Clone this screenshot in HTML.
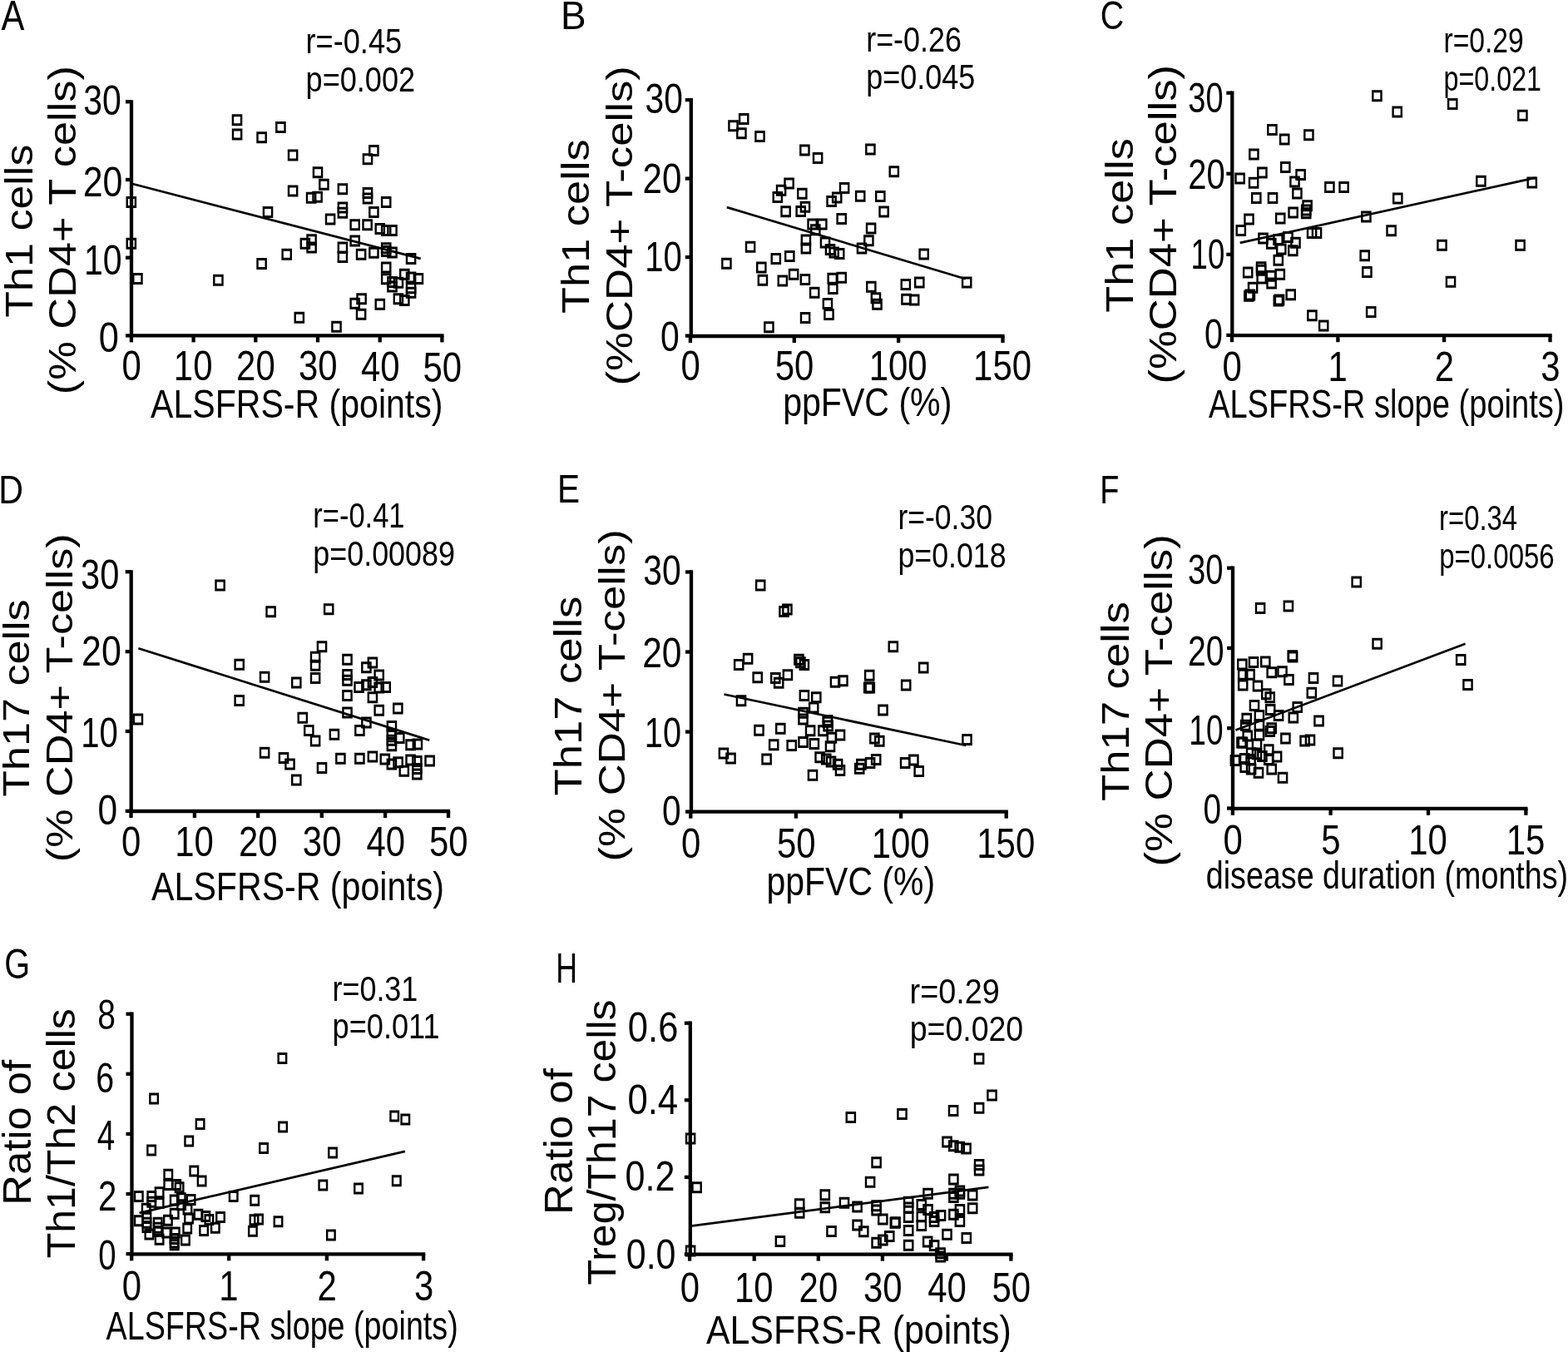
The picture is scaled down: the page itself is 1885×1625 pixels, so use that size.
<!DOCTYPE html>
<html><head><meta charset="utf-8"><style>
html,body{margin:0;padding:0;background:#fff;}
svg{display:block;}
text{font-family:"Liberation Sans",Arial,sans-serif;fill:#000;}
line{stroke:#000;}
path.s{fill:#000;fill-rule:evenodd;stroke:none;}
</style></head><body>
<svg xmlns="http://www.w3.org/2000/svg" width="1885" height="1625" viewBox="0 0 1885 1625">
<text transform="translate(1.50,36.00) scale(0.8505,1)" font-size="49.16">A</text>
<text transform="translate(367.46,64.10) scale(0.8504,1)" font-size="42.58">r=-0.45</text>
<text transform="translate(367.55,109.60) scale(0.8510,1)" font-size="42.44">p=0.002</text>
<text transform="translate(39.40,381.67) rotate(-90) scale(1.1224,1)" font-size="46.34">Th1 cells</text>
<text transform="translate(91.10,474.17) rotate(-90) scale(1.1537,1)" font-size="45.38">(% CD4+ T cells)</text>
<line x1="158.00" y1="120.15" x2="158.00" y2="405.55" stroke-width="4.3"/>
<line x1="151.00" y1="403.40" x2="158.00" y2="403.40" stroke-width="4.3"/>
<line x1="151.00" y1="309.70" x2="158.00" y2="309.70" stroke-width="4.3"/>
<line x1="151.00" y1="216.00" x2="158.00" y2="216.00" stroke-width="4.3"/>
<line x1="151.00" y1="122.30" x2="158.00" y2="122.30" stroke-width="4.3"/>
<line x1="155.85" y1="403.40" x2="533.55" y2="403.40" stroke-width="4.3"/>
<line x1="157.90" y1="403.40" x2="157.90" y2="411.40" stroke-width="4.3"/>
<line x1="232.60" y1="403.40" x2="232.60" y2="411.40" stroke-width="4.3"/>
<line x1="307.30" y1="403.40" x2="307.30" y2="411.40" stroke-width="4.3"/>
<line x1="382.00" y1="403.40" x2="382.00" y2="411.40" stroke-width="4.3"/>
<line x1="456.70" y1="403.40" x2="456.70" y2="411.40" stroke-width="4.3"/>
<line x1="531.40" y1="403.40" x2="531.40" y2="411.40" stroke-width="4.3"/>
<text transform="translate(100.26,137.75) scale(0.8310,1)" font-size="49.30">30</text>
<text transform="translate(99.75,236.25) scale(0.8709,1)" font-size="49.30">20</text>
<text transform="translate(100.92,330.25) scale(0.8337,1)" font-size="49.30">10</text>
<text transform="translate(118.67,423.05) scale(0.8793,1)" font-size="49.30">0</text>
<text transform="translate(146.52,456.99) scale(0.8500,1)" font-size="49.30">0</text>
<text transform="translate(208.86,456.79) scale(0.8500,1)" font-size="49.30">10</text>
<text transform="translate(284.08,456.99) scale(0.8500,1)" font-size="49.30">20</text>
<text transform="translate(359.04,456.99) scale(0.8500,1)" font-size="49.30">30</text>
<text transform="translate(434.06,458.09) scale(0.8500,1)" font-size="49.30">40</text>
<text transform="translate(508.39,458.59) scale(0.8500,1)" font-size="49.30">50</text>
<text transform="translate(181.10,502.40) scale(0.8505,1)" font-size="48.29">ALSFRS-R (points)</text>
<line x1="158.50" y1="220.80" x2="505.70" y2="310.90" stroke-width="2.7"/>
<path class="s" d="M278.70 137.30h12.60v14.00h-12.60zM281.10 140.30v8.00h7.80v-8.00z"/>
<path class="s" d="M278.80 154.50h12.60v14.00h-12.60zM281.20 157.50v8.00h7.80v-8.00z"/>
<path class="s" d="M308.30 158.30h12.60v14.00h-12.60zM310.70 161.30v8.00h7.80v-8.00z"/>
<path class="s" d="M331.10 145.90h12.60v14.00h-12.60zM333.50 148.90v8.00h7.80v-8.00z"/>
<path class="s" d="M345.80 179.60h12.60v14.00h-12.60zM348.20 182.60v8.00h7.80v-8.00z"/>
<path class="s" d="M443.10 174.10h12.60v14.00h-12.60zM445.50 177.10v8.00h7.80v-8.00z"/>
<path class="s" d="M435.70 184.20h12.60v14.00h-12.60zM438.10 187.20v8.00h7.80v-8.00z"/>
<path class="s" d="M375.70 200.30h12.60v14.00h-12.60zM378.10 203.30v8.00h7.80v-8.00z"/>
<path class="s" d="M383.10 214.70h12.60v14.00h-12.60zM385.50 217.70v8.00h7.80v-8.00z"/>
<path class="s" d="M345.80 222.60h12.60v14.00h-12.60zM348.20 225.60v8.00h7.80v-8.00z"/>
<path class="s" d="M367.80 230.80h12.60v14.00h-12.60zM370.20 233.80v8.00h7.80v-8.00z"/>
<path class="s" d="M375.30 229.80h12.60v14.00h-12.60zM377.70 232.80v8.00h7.80v-8.00z"/>
<path class="s" d="M405.60 220.20h12.60v14.00h-12.60zM408.00 223.20v8.00h7.80v-8.00z"/>
<path class="s" d="M435.70 225.00h12.60v14.00h-12.60zM438.10 228.00v8.00h7.80v-8.00z"/>
<path class="s" d="M435.70 231.50h12.60v14.00h-12.60zM438.10 234.50v8.00h7.80v-8.00z"/>
<path class="s" d="M457.90 235.90h12.60v14.00h-12.60zM460.30 238.90v8.00h7.80v-8.00z"/>
<path class="s" d="M405.60 242.40h12.60v14.00h-12.60zM408.00 245.40v8.00h7.80v-8.00z"/>
<path class="s" d="M405.60 248.80h12.60v14.00h-12.60zM408.00 251.80v8.00h7.80v-8.00z"/>
<path class="s" d="M315.70 247.90h12.60v14.00h-12.60zM318.10 250.90v8.00h7.80v-8.00z"/>
<path class="s" d="M443.10 247.90h12.60v14.00h-12.60zM445.50 250.90v8.00h7.80v-8.00z"/>
<path class="s" d="M390.80 256.60h12.60v14.00h-12.60zM393.20 259.60v8.00h7.80v-8.00z"/>
<path class="s" d="M420.40 263.20h12.60v14.00h-12.60zM422.80 266.20v8.00h7.80v-8.00z"/>
<path class="s" d="M435.30 263.20h12.60v14.00h-12.60zM437.70 266.20v8.00h7.80v-8.00z"/>
<path class="s" d="M450.50 267.90h12.60v14.00h-12.60zM452.90 270.90v8.00h7.80v-8.00z"/>
<path class="s" d="M457.90 270.10h12.60v14.00h-12.60zM460.30 273.10v8.00h7.80v-8.00z"/>
<path class="s" d="M465.20 270.10h12.60v14.00h-12.60zM467.60 273.10v8.00h7.80v-8.00z"/>
<path class="s" d="M420.40 282.40h12.60v14.00h-12.60zM422.80 285.40v8.00h7.80v-8.00z"/>
<path class="s" d="M368.30 281.20h12.60v14.00h-12.60zM370.70 284.20v8.00h7.80v-8.00z"/>
<path class="s" d="M368.30 290.40h12.60v14.00h-12.60zM370.70 293.40v8.00h7.80v-8.00z"/>
<path class="s" d="M360.60 285.80h12.60v14.00h-12.60zM363.00 288.80v8.00h7.80v-8.00z"/>
<path class="s" d="M405.60 290.40h12.60v14.00h-12.60zM408.00 293.40v8.00h7.80v-8.00z"/>
<path class="s" d="M405.60 302.00h12.60v14.00h-12.60zM408.00 305.00v8.00h7.80v-8.00z"/>
<path class="s" d="M338.40 298.70h12.60v14.00h-12.60zM340.80 301.70v8.00h7.80v-8.00z"/>
<path class="s" d="M427.80 298.70h12.60v14.00h-12.60zM430.20 301.70v8.00h7.80v-8.00z"/>
<path class="s" d="M443.10 296.80h12.60v14.00h-12.60zM445.50 299.80v8.00h7.80v-8.00z"/>
<path class="s" d="M457.90 291.30h12.60v14.00h-12.60zM460.30 294.30v8.00h7.80v-8.00z"/>
<path class="s" d="M457.90 295.00h12.60v14.00h-12.60zM460.30 298.00v8.00h7.80v-8.00z"/>
<path class="s" d="M465.20 296.50h12.60v14.00h-12.60zM467.60 299.50v8.00h7.80v-8.00z"/>
<path class="s" d="M487.80 303.90h12.60v14.00h-12.60zM490.20 306.90v8.00h7.80v-8.00z"/>
<path class="s" d="M308.30 310.10h12.60v14.00h-12.60zM310.70 313.10v8.00h7.80v-8.00z"/>
<path class="s" d="M256.10 329.70h12.60v14.00h-12.60zM258.50 332.70v8.00h7.80v-8.00z"/>
<path class="s" d="M457.90 314.40h12.60v14.00h-12.60zM460.30 317.40v8.00h7.80v-8.00z"/>
<path class="s" d="M457.90 328.20h12.60v14.00h-12.60zM460.30 331.20v8.00h7.80v-8.00z"/>
<path class="s" d="M465.20 331.90h12.60v14.00h-12.60zM467.60 334.90v8.00h7.80v-8.00z"/>
<path class="s" d="M465.20 337.50h12.60v14.00h-12.60zM467.60 340.50v8.00h7.80v-8.00z"/>
<path class="s" d="M472.60 332.80h12.60v14.00h-12.60zM475.00 335.80v8.00h7.80v-8.00z"/>
<path class="s" d="M480.00 322.70h12.60v14.00h-12.60zM482.40 325.70v8.00h7.80v-8.00z"/>
<path class="s" d="M487.80 326.40h12.60v14.00h-12.60zM490.20 329.40v8.00h7.80v-8.00z"/>
<path class="s" d="M496.60 327.90h12.60v14.00h-12.60zM499.00 330.90v8.00h7.80v-8.00z"/>
<path class="s" d="M487.80 339.30h12.60v14.00h-12.60zM490.20 342.30v8.00h7.80v-8.00z"/>
<path class="s" d="M487.80 344.80h12.60v14.00h-12.60zM490.20 347.80v8.00h7.80v-8.00z"/>
<path class="s" d="M472.60 352.20h12.60v14.00h-12.60zM475.00 355.20v8.00h7.80v-8.00z"/>
<path class="s" d="M480.00 354.10h12.60v14.00h-12.60zM482.40 357.10v8.00h7.80v-8.00z"/>
<path class="s" d="M428.30 352.20h12.60v14.00h-12.60zM430.70 355.20v8.00h7.80v-8.00z"/>
<path class="s" d="M420.40 357.80h12.60v14.00h-12.60zM422.80 360.80v8.00h7.80v-8.00z"/>
<path class="s" d="M427.80 370.70h12.60v14.00h-12.60zM430.20 373.70v8.00h7.80v-8.00z"/>
<path class="s" d="M450.50 358.70h12.60v14.00h-12.60zM452.90 361.70v8.00h7.80v-8.00z"/>
<path class="s" d="M353.50 374.80h12.60v14.00h-12.60zM355.90 377.80v8.00h7.80v-8.00z"/>
<path class="s" d="M398.20 385.80h12.60v14.00h-12.60zM400.60 388.80v8.00h7.80v-8.00z"/>
<path class="s" d="M151.50 236.00h12.60v14.00h-12.60zM153.90 239.00v8.00h7.80v-8.00z"/>
<path class="s" d="M151.50 285.80h12.60v14.00h-12.60zM153.90 288.80v8.00h7.80v-8.00z"/>
<path class="s" d="M159.10 328.00h12.60v14.00h-12.60zM161.50 331.00v8.00h7.80v-8.00z"/>
<text transform="translate(674.02,34.80) scale(0.9348,1)" font-size="49.02">B</text>
<text transform="translate(1041.18,61.80) scale(0.8609,1)" font-size="41.72">r=-0.26</text>
<text transform="translate(1041.26,107.40) scale(0.8596,1)" font-size="41.86">p=0.045</text>
<text transform="translate(708.00,376.98) rotate(-90) scale(1.1339,1)" font-size="46.21">Th1 cells</text>
<text transform="translate(759.90,463.50) rotate(-90) scale(1.1662,1)" font-size="45.24">(%CD4+ T-cells)</text>
<line x1="830.80" y1="117.95" x2="830.80" y2="406.15" stroke-width="4.3"/>
<line x1="823.80" y1="403.60" x2="830.80" y2="403.60" stroke-width="4.3"/>
<line x1="823.80" y1="309.10" x2="830.80" y2="309.10" stroke-width="4.3"/>
<line x1="823.80" y1="214.60" x2="830.80" y2="214.60" stroke-width="4.3"/>
<line x1="823.80" y1="120.10" x2="830.80" y2="120.10" stroke-width="4.3"/>
<line x1="828.65" y1="404.00" x2="1207.65" y2="404.00" stroke-width="4.3"/>
<line x1="829.90" y1="404.00" x2="829.90" y2="412.00" stroke-width="4.3"/>
<line x1="954.80" y1="404.00" x2="954.80" y2="412.00" stroke-width="4.3"/>
<line x1="1080.10" y1="404.00" x2="1080.10" y2="412.00" stroke-width="4.3"/>
<line x1="1205.50" y1="404.00" x2="1205.50" y2="412.00" stroke-width="4.3"/>
<text transform="translate(775.47,135.95) scale(0.8270,1)" font-size="49.30">30</text>
<text transform="translate(772.59,231.55) scale(0.8550,1)" font-size="49.30">20</text>
<text transform="translate(775.19,326.25) scale(0.8134,1)" font-size="49.30">10</text>
<text transform="translate(793.97,422.15) scale(0.8284,1)" font-size="49.30">0</text>
<text transform="translate(818.52,457.09) scale(0.8500,1)" font-size="49.30">0</text>
<text transform="translate(931.79,457.09) scale(0.8500,1)" font-size="49.30">50</text>
<text transform="translate(1044.68,457.09) scale(0.8500,1)" font-size="49.30">100</text>
<text transform="translate(1170.08,457.09) scale(0.8500,1)" font-size="49.30">150</text>
<text transform="translate(941.13,499.60) scale(0.8485,1)" font-size="48.44">ppFVC (%)</text>
<line x1="873.80" y1="249.10" x2="1160.80" y2="335.30" stroke-width="2.7"/>
<path class="s" d="M887.90 136.00h12.60v14.00h-12.60zM890.30 139.00v8.00h7.80v-8.00z"/>
<path class="s" d="M875.20 144.20h12.60v14.00h-12.60zM877.60 147.20v8.00h7.80v-8.00z"/>
<path class="s" d="M885.10 153.20h12.60v14.00h-12.60zM887.50 156.20v8.00h7.80v-8.00z"/>
<path class="s" d="M907.20 156.90h12.60v14.00h-12.60zM909.60 159.90v8.00h7.80v-8.00z"/>
<path class="s" d="M961.10 173.50h12.60v14.00h-12.60zM963.50 176.50v8.00h7.80v-8.00z"/>
<path class="s" d="M976.80 183.00h12.60v14.00h-12.60zM979.20 186.00v8.00h7.80v-8.00z"/>
<path class="s" d="M942.30 213.40h12.60v14.00h-12.60zM944.70 216.40v8.00h7.80v-8.00z"/>
<path class="s" d="M932.80 221.80h12.60v14.00h-12.60zM935.20 224.80v8.00h7.80v-8.00z"/>
<path class="s" d="M928.50 230.10h12.60v14.00h-12.60zM930.90 233.10v8.00h7.80v-8.00z"/>
<path class="s" d="M958.00 225.70h12.60v14.00h-12.60zM960.40 228.70v8.00h7.80v-8.00z"/>
<path class="s" d="M1008.80 218.90h12.60v14.00h-12.60zM1011.20 221.90v8.00h7.80v-8.00z"/>
<path class="s" d="M999.90 230.40h12.60v14.00h-12.60zM1002.30 233.40v8.00h7.80v-8.00z"/>
<path class="s" d="M993.30 234.90h12.60v14.00h-12.60zM995.70 237.90v8.00h7.80v-8.00z"/>
<path class="s" d="M1027.90 228.80h12.60v14.00h-12.60zM1030.30 231.80v8.00h7.80v-8.00z"/>
<path class="s" d="M938.30 247.20h12.60v14.00h-12.60zM940.70 250.20v8.00h7.80v-8.00z"/>
<path class="s" d="M961.70 241.80h12.60v14.00h-12.60zM964.10 244.80v8.00h7.80v-8.00z"/>
<path class="s" d="M956.40 247.00h12.60v14.00h-12.60zM958.80 250.00v8.00h7.80v-8.00z"/>
<path class="s" d="M1005.40 256.00h12.60v14.00h-12.60zM1007.80 259.00v8.00h7.80v-8.00z"/>
<path class="s" d="M970.30 262.60h12.60v14.00h-12.60zM972.70 265.60v8.00h7.80v-8.00z"/>
<path class="s" d="M982.00 262.60h12.60v14.00h-12.60zM984.40 265.60v8.00h7.80v-8.00z"/>
<path class="s" d="M974.00 269.20h12.60v14.00h-12.60zM976.40 272.20v8.00h7.80v-8.00z"/>
<path class="s" d="M962.60 281.60h12.60v14.00h-12.60zM965.00 284.60v8.00h7.80v-8.00z"/>
<path class="s" d="M962.60 291.50h12.60v14.00h-12.60zM965.00 294.50v8.00h7.80v-8.00z"/>
<path class="s" d="M985.70 284.60h12.60v14.00h-12.60zM988.10 287.60v8.00h7.80v-8.00z"/>
<path class="s" d="M991.70 293.10h12.60v14.00h-12.60zM994.10 296.10v8.00h7.80v-8.00z"/>
<path class="s" d="M996.40 296.40h12.60v14.00h-12.60zM998.80 299.40v8.00h7.80v-8.00z"/>
<path class="s" d="M1002.90 298.00h12.60v14.00h-12.60zM1005.30 301.00v8.00h7.80v-8.00z"/>
<path class="s" d="M1029.70 291.50h12.60v14.00h-12.60zM1032.10 294.50v8.00h7.80v-8.00z"/>
<path class="s" d="M895.80 289.70h12.60v14.00h-12.60zM898.20 292.70v8.00h7.80v-8.00z"/>
<path class="s" d="M926.50 303.90h12.60v14.00h-12.60zM928.90 306.90v8.00h7.80v-8.00z"/>
<path class="s" d="M943.00 301.10h12.60v14.00h-12.60zM945.40 304.10v8.00h7.80v-8.00z"/>
<path class="s" d="M867.10 309.80h12.60v14.00h-12.60zM869.50 312.80v8.00h7.80v-8.00z"/>
<path class="s" d="M909.00 314.50h12.60v14.00h-12.60zM911.40 317.50v8.00h7.80v-8.00z"/>
<path class="s" d="M910.60 329.70h12.60v14.00h-12.60zM913.00 332.70v8.00h7.80v-8.00z"/>
<path class="s" d="M934.50 330.50h12.60v14.00h-12.60zM936.90 333.50v8.00h7.80v-8.00z"/>
<path class="s" d="M947.80 322.70h12.60v14.00h-12.60zM950.20 325.70v8.00h7.80v-8.00z"/>
<path class="s" d="M961.60 328.90h12.60v14.00h-12.60zM964.00 331.90v8.00h7.80v-8.00z"/>
<path class="s" d="M972.90 344.80h12.60v14.00h-12.60zM975.30 347.80v8.00h7.80v-8.00z"/>
<path class="s" d="M994.40 327.80h12.60v14.00h-12.60zM996.80 330.80v8.00h7.80v-8.00z"/>
<path class="s" d="M1005.40 326.70h12.60v14.00h-12.60zM1007.80 329.70v8.00h7.80v-8.00z"/>
<path class="s" d="M995.00 340.00h12.60v14.00h-12.60zM997.40 343.00v8.00h7.80v-8.00z"/>
<path class="s" d="M988.60 358.00h12.60v14.00h-12.60zM991.00 361.00v8.00h7.80v-8.00z"/>
<path class="s" d="M990.20 371.10h12.60v14.00h-12.60zM992.60 374.10v8.00h7.80v-8.00z"/>
<path class="s" d="M961.80 375.00h12.60v14.00h-12.60zM964.20 378.00v8.00h7.80v-8.00z"/>
<path class="s" d="M918.10 386.20h12.60v14.00h-12.60zM920.50 389.20v8.00h7.80v-8.00z"/>
<path class="s" d="M1040.10 172.60h12.60v14.00h-12.60zM1042.50 175.60v8.00h7.80v-8.00z"/>
<path class="s" d="M1068.50 199.30h12.60v14.00h-12.60zM1070.90 202.30v8.00h7.80v-8.00z"/>
<path class="s" d="M1052.00 229.10h12.60v14.00h-12.60zM1054.40 232.10v8.00h7.80v-8.00z"/>
<path class="s" d="M1056.30 247.40h12.60v14.00h-12.60zM1058.70 250.40v8.00h7.80v-8.00z"/>
<path class="s" d="M1040.80 267.40h12.60v14.00h-12.60zM1043.20 270.40v8.00h7.80v-8.00z"/>
<path class="s" d="M1038.10 282.30h12.60v14.00h-12.60zM1040.50 285.30v8.00h7.80v-8.00z"/>
<path class="s" d="M1104.40 298.50h12.60v14.00h-12.60zM1106.80 301.50v8.00h7.80v-8.00z"/>
<path class="s" d="M1155.90 332.40h12.60v14.00h-12.60zM1158.30 335.40v8.00h7.80v-8.00z"/>
<path class="s" d="M1041.00 337.80h12.60v14.00h-12.60zM1043.40 340.80v8.00h7.80v-8.00z"/>
<path class="s" d="M1046.60 351.30h12.60v14.00h-12.60zM1049.00 354.30v8.00h7.80v-8.00z"/>
<path class="s" d="M1048.20 358.80h12.60v14.00h-12.60zM1050.60 361.80v8.00h7.80v-8.00z"/>
<path class="s" d="M1082.50 335.10h12.60v14.00h-12.60zM1084.90 338.10v8.00h7.80v-8.00z"/>
<path class="s" d="M1099.00 332.40h12.60v14.00h-12.60zM1101.40 335.40v8.00h7.80v-8.00z"/>
<path class="s" d="M1083.20 352.70h12.60v14.00h-12.60zM1085.60 355.70v8.00h7.80v-8.00z"/>
<path class="s" d="M1092.90 353.40h12.60v14.00h-12.60zM1095.30 356.40v8.00h7.80v-8.00z"/>
<text transform="translate(1322.82,35.40) scale(0.8085,1)" font-size="48.89">C</text>
<text transform="translate(1735.43,63.30) scale(0.7908,1)" font-size="42.58">r=0.29</text>
<text transform="translate(1735.60,108.70) scale(0.7571,1)" font-size="42.58">p=0.021</text>
<text transform="translate(1361.80,375.78) rotate(-90) scale(1.1447,1)" font-size="45.79">Th1 cells</text>
<text transform="translate(1413.80,461.59) rotate(-90) scale(1.1529,1)" font-size="45.66">(%CD4+ T-cells)</text>
<line x1="1481.30" y1="109.55" x2="1481.30" y2="405.35" stroke-width="4.3"/>
<line x1="1474.30" y1="402.90" x2="1481.30" y2="402.90" stroke-width="4.3"/>
<line x1="1474.30" y1="305.83" x2="1481.30" y2="305.83" stroke-width="4.3"/>
<line x1="1474.30" y1="208.77" x2="1481.30" y2="208.77" stroke-width="4.3"/>
<line x1="1474.30" y1="111.70" x2="1481.30" y2="111.70" stroke-width="4.3"/>
<line x1="1479.15" y1="403.20" x2="1865.65" y2="403.20" stroke-width="4.3"/>
<line x1="1481.00" y1="403.20" x2="1481.00" y2="411.20" stroke-width="4.3"/>
<line x1="1608.40" y1="403.20" x2="1608.40" y2="411.20" stroke-width="4.3"/>
<line x1="1736.10" y1="403.20" x2="1736.10" y2="411.20" stroke-width="4.3"/>
<line x1="1863.50" y1="403.20" x2="1863.50" y2="411.20" stroke-width="4.3"/>
<text transform="translate(1428.37,134.65) scale(0.7722,1)" font-size="49.30">30</text>
<text transform="translate(1428.20,227.15) scale(0.8133,1)" font-size="49.30">20</text>
<text transform="translate(1431.56,322.75) scale(0.7422,1)" font-size="49.30">10</text>
<text transform="translate(1447.93,419.15) scale(0.7986,1)" font-size="49.30">0</text>
<text transform="translate(1469.62,458.19) scale(0.8500,1)" font-size="49.30">0</text>
<text transform="translate(1596.50,458.19) scale(0.8500,1)" font-size="49.30">1</text>
<text transform="translate(1724.77,458.19) scale(0.8500,1)" font-size="49.30">2</text>
<text transform="translate(1852.28,458.19) scale(0.8500,1)" font-size="49.30">3</text>
<text transform="translate(1453.00,502.30) scale(0.7819,1)" font-size="48.73">ALSFRS-R slope (points)</text>
<line x1="1490.70" y1="291.90" x2="1846.00" y2="213.60" stroke-width="2.7"/>
<path class="s" d="M1523.10 148.90h12.60v14.00h-12.60zM1525.50 151.90v8.00h7.80v-8.00z"/>
<path class="s" d="M1537.90 160.60h12.60v14.00h-12.60zM1540.30 163.60v8.00h7.80v-8.00z"/>
<path class="s" d="M1567.10 155.30h12.60v14.00h-12.60zM1569.50 158.30v8.00h7.80v-8.00z"/>
<path class="s" d="M1501.10 178.60h12.60v14.00h-12.60zM1503.50 181.60v8.00h7.80v-8.00z"/>
<path class="s" d="M1539.00 194.00h12.60v14.00h-12.60zM1541.40 197.00v8.00h7.80v-8.00z"/>
<path class="s" d="M1511.10 200.40h12.60v14.00h-12.60zM1513.50 203.40v8.00h7.80v-8.00z"/>
<path class="s" d="M1484.30 207.50h12.60v14.00h-12.60zM1486.70 210.50v8.00h7.80v-8.00z"/>
<path class="s" d="M1557.30 203.00h12.60v14.00h-12.60zM1559.70 206.00v8.00h7.80v-8.00z"/>
<path class="s" d="M1500.80 212.80h12.60v14.00h-12.60zM1503.20 215.80v8.00h7.80v-8.00z"/>
<path class="s" d="M1550.20 211.50h12.60v14.00h-12.60zM1552.60 214.50v8.00h7.80v-8.00z"/>
<path class="s" d="M1592.10 217.90h12.60v14.00h-12.60zM1594.50 220.90v8.00h7.80v-8.00z"/>
<path class="s" d="M1609.30 217.90h12.60v14.00h-12.60zM1611.70 220.90v8.00h7.80v-8.00z"/>
<path class="s" d="M1553.10 225.50h12.60v14.00h-12.60zM1555.50 228.50v8.00h7.80v-8.00z"/>
<path class="s" d="M1504.00 231.10h12.60v14.00h-12.60zM1506.40 234.10v8.00h7.80v-8.00z"/>
<path class="s" d="M1523.70 231.10h12.60v14.00h-12.60zM1526.10 234.10v8.00h7.80v-8.00z"/>
<path class="s" d="M1565.30 240.20h12.60v14.00h-12.60zM1567.70 243.20v8.00h7.80v-8.00z"/>
<path class="s" d="M1548.30 248.40h12.60v14.00h-12.60zM1550.70 251.40v8.00h7.80v-8.00z"/>
<path class="s" d="M1563.90 245.50h12.60v14.00h-12.60zM1566.30 248.50v8.00h7.80v-8.00z"/>
<path class="s" d="M1563.90 249.20h12.60v14.00h-12.60zM1566.30 252.20v8.00h7.80v-8.00z"/>
<path class="s" d="M1495.20 256.60h12.60v14.00h-12.60zM1497.60 259.60v8.00h7.80v-8.00z"/>
<path class="s" d="M1532.90 255.50h12.60v14.00h-12.60zM1535.30 258.50v8.00h7.80v-8.00z"/>
<path class="s" d="M1636.10 253.40h12.60v14.00h-12.60zM1638.50 256.40v8.00h7.80v-8.00z"/>
<path class="s" d="M1485.50 269.90h12.60v14.00h-12.60zM1487.90 272.90v8.00h7.80v-8.00z"/>
<path class="s" d="M1570.80 273.10h12.60v14.00h-12.60zM1573.20 276.10v8.00h7.80v-8.00z"/>
<path class="s" d="M1576.70 273.10h12.60v14.00h-12.60zM1579.10 276.10v8.00h7.80v-8.00z"/>
<path class="s" d="M1666.30 270.20h12.60v14.00h-12.60zM1668.70 273.20v8.00h7.80v-8.00z"/>
<path class="s" d="M1512.20 279.50h12.60v14.00h-12.60zM1514.60 282.50v8.00h7.80v-8.00z"/>
<path class="s" d="M1522.00 285.80h12.60v14.00h-12.60zM1524.40 288.80v8.00h7.80v-8.00z"/>
<path class="s" d="M1530.20 281.00h12.60v14.00h-12.60zM1532.60 284.00v8.00h7.80v-8.00z"/>
<path class="s" d="M1534.00 292.60h12.60v14.00h-12.60zM1536.40 295.60v8.00h7.80v-8.00z"/>
<path class="s" d="M1542.20 277.90h12.60v14.00h-12.60zM1544.60 280.90v8.00h7.80v-8.00z"/>
<path class="s" d="M1551.20 284.70h12.60v14.00h-12.60zM1553.60 287.70v8.00h7.80v-8.00z"/>
<path class="s" d="M1548.00 294.30h12.60v14.00h-12.60zM1550.40 297.30v8.00h7.80v-8.00z"/>
<path class="s" d="M1530.50 305.70h12.60v14.00h-12.60zM1532.90 308.70v8.00h7.80v-8.00z"/>
<path class="s" d="M1493.90 320.50h12.60v14.00h-12.60zM1496.30 323.50v8.00h7.80v-8.00z"/>
<path class="s" d="M1509.80 314.20h12.60v14.00h-12.60zM1512.20 317.20v8.00h7.80v-8.00z"/>
<path class="s" d="M1509.80 317.70h12.60v14.00h-12.60zM1512.20 320.70v8.00h7.80v-8.00z"/>
<path class="s" d="M1510.40 327.40h12.60v14.00h-12.60zM1512.80 330.40v8.00h7.80v-8.00z"/>
<path class="s" d="M1521.70 324.70h12.60v14.00h-12.60zM1524.10 327.70v8.00h7.80v-8.00z"/>
<path class="s" d="M1522.30 333.50h12.60v14.00h-12.60zM1524.70 336.50v8.00h7.80v-8.00z"/>
<path class="s" d="M1532.50 322.70h12.60v14.00h-12.60zM1534.90 325.70v8.00h7.80v-8.00z"/>
<path class="s" d="M1499.80 338.80h12.60v14.00h-12.60zM1502.20 341.80v8.00h7.80v-8.00z"/>
<path class="s" d="M1495.10 348.70h12.60v14.00h-12.60zM1497.50 351.70v8.00h7.80v-8.00z"/>
<path class="s" d="M1496.60 347.50h12.60v14.00h-12.60zM1499.00 350.50v8.00h7.80v-8.00z"/>
<path class="s" d="M1530.50 354.60h12.60v14.00h-12.60zM1532.90 357.60v8.00h7.80v-8.00z"/>
<path class="s" d="M1531.70 353.40h12.60v14.00h-12.60zM1534.10 356.40v8.00h7.80v-8.00z"/>
<path class="s" d="M1545.40 347.20h12.60v14.00h-12.60zM1547.80 350.20v8.00h7.80v-8.00z"/>
<path class="s" d="M1634.40 300.30h12.60v14.00h-12.60zM1636.80 303.30v8.00h7.80v-8.00z"/>
<path class="s" d="M1637.10 320.00h12.60v14.00h-12.60zM1639.50 323.00v8.00h7.80v-8.00z"/>
<path class="s" d="M1571.10 372.30h12.60v14.00h-12.60zM1573.50 375.30v8.00h7.80v-8.00z"/>
<path class="s" d="M1584.90 384.50h12.60v14.00h-12.60zM1587.30 387.50v8.00h7.80v-8.00z"/>
<path class="s" d="M1641.90 368.00h12.60v14.00h-12.60zM1644.30 371.00v8.00h7.80v-8.00z"/>
<path class="s" d="M1649.10 108.30h12.60v14.00h-12.60zM1651.50 111.30v8.00h7.80v-8.00z"/>
<path class="s" d="M1673.40 127.50h12.60v14.00h-12.60zM1675.80 130.50v8.00h7.80v-8.00z"/>
<path class="s" d="M1739.90 117.90h12.60v14.00h-12.60zM1742.30 120.90v8.00h7.80v-8.00z"/>
<path class="s" d="M1824.10 131.80h12.60v14.00h-12.60zM1826.50 134.80v8.00h7.80v-8.00z"/>
<path class="s" d="M1774.10 210.80h12.60v14.00h-12.60zM1776.50 213.80v8.00h7.80v-8.00z"/>
<path class="s" d="M1835.50 212.60h12.60v14.00h-12.60zM1837.90 215.60v8.00h7.80v-8.00z"/>
<path class="s" d="M1674.00 231.50h12.60v14.00h-12.60zM1676.40 234.50v8.00h7.80v-8.00z"/>
<path class="s" d="M1727.20 287.80h12.60v14.00h-12.60zM1729.60 290.80v8.00h7.80v-8.00z"/>
<path class="s" d="M1821.30 287.80h12.60v14.00h-12.60zM1823.70 290.80v8.00h7.80v-8.00z"/>
<path class="s" d="M1737.70 331.70h12.60v14.00h-12.60zM1740.10 334.70v8.00h7.80v-8.00z"/>
<text transform="translate(-1.70,605.20) scale(0.8451,1)" font-size="48.73">D</text>
<text transform="translate(376.27,634.30) scale(0.8105,1)" font-size="42.58">r=-0.41</text>
<text transform="translate(376.27,679.90) scale(0.8433,1)" font-size="42.58">p=0.00089</text>
<text transform="translate(34.90,957.77) rotate(-90) scale(1.1589,1)" font-size="44.97">Th17 cells</text>
<text transform="translate(86.80,1036.16) rotate(-90) scale(1.1539,1)" font-size="45.24">(% CD4+ T-cells)</text>
<line x1="157.70" y1="685.15" x2="157.70" y2="977.15" stroke-width="4.3"/>
<line x1="150.70" y1="974.80" x2="157.70" y2="974.80" stroke-width="4.3"/>
<line x1="150.70" y1="878.97" x2="157.70" y2="878.97" stroke-width="4.3"/>
<line x1="150.70" y1="783.13" x2="157.70" y2="783.13" stroke-width="4.3"/>
<line x1="150.70" y1="687.30" x2="157.70" y2="687.30" stroke-width="4.3"/>
<line x1="155.55" y1="975.00" x2="541.15" y2="975.00" stroke-width="4.3"/>
<line x1="157.50" y1="975.00" x2="157.50" y2="983.00" stroke-width="4.3"/>
<line x1="233.90" y1="975.00" x2="233.90" y2="983.00" stroke-width="4.3"/>
<line x1="310.20" y1="975.00" x2="310.20" y2="983.00" stroke-width="4.3"/>
<line x1="386.80" y1="975.00" x2="386.80" y2="983.00" stroke-width="4.3"/>
<line x1="463.10" y1="975.00" x2="463.10" y2="983.00" stroke-width="4.3"/>
<line x1="539.00" y1="975.00" x2="539.00" y2="983.00" stroke-width="4.3"/>
<text transform="translate(97.04,707.65) scale(0.8447,1)" font-size="49.30">30</text>
<text transform="translate(98.05,800.05) scale(0.8709,1)" font-size="49.30">20</text>
<text transform="translate(97.19,897.95) scale(0.8134,1)" font-size="49.30">10</text>
<text transform="translate(117.40,991.45) scale(0.8623,1)" font-size="49.30">0</text>
<text transform="translate(146.12,1028.89) scale(0.8500,1)" font-size="49.30">0</text>
<text transform="translate(210.16,1028.89) scale(0.8500,1)" font-size="49.30">10</text>
<text transform="translate(286.98,1028.89) scale(0.8500,1)" font-size="49.30">20</text>
<text transform="translate(363.84,1028.89) scale(0.8500,1)" font-size="49.30">30</text>
<text transform="translate(440.46,1028.89) scale(0.8500,1)" font-size="49.30">40</text>
<text transform="translate(515.99,1028.89) scale(0.8500,1)" font-size="49.30">50</text>
<text transform="translate(182.10,1082.00) scale(0.8391,1)" font-size="49.02">ALSFRS-R (points)</text>
<line x1="166.40" y1="779.20" x2="516.30" y2="889.70" stroke-width="2.7"/>
<path class="s" d="M258.30 696.60h12.60v14.00h-12.60zM260.70 699.60v8.00h7.80v-8.00z"/>
<path class="s" d="M319.30 728.20h12.60v14.00h-12.60zM321.70 731.20v8.00h7.80v-8.00z"/>
<path class="s" d="M380.70 770.20h12.60v14.00h-12.60zM383.10 773.20v8.00h7.80v-8.00z"/>
<path class="s" d="M372.80 782.70h12.60v14.00h-12.60zM375.20 785.70v8.00h7.80v-8.00z"/>
<path class="s" d="M372.80 792.70h12.60v14.00h-12.60zM375.20 795.70v8.00h7.80v-8.00z"/>
<path class="s" d="M372.80 807.90h12.60v14.00h-12.60zM375.20 810.90v8.00h7.80v-8.00z"/>
<path class="s" d="M281.40 791.80h12.60v14.00h-12.60zM283.80 794.80v8.00h7.80v-8.00z"/>
<path class="s" d="M311.80 806.80h12.60v14.00h-12.60zM314.20 809.80v8.00h7.80v-8.00z"/>
<path class="s" d="M350.00 813.40h12.60v14.00h-12.60zM352.40 816.40v8.00h7.80v-8.00z"/>
<path class="s" d="M281.40 835.00h12.60v14.00h-12.60zM283.80 838.00v8.00h7.80v-8.00z"/>
<path class="s" d="M357.50 855.80h12.60v14.00h-12.60zM359.90 858.80v8.00h7.80v-8.00z"/>
<path class="s" d="M365.00 871.10h12.60v14.00h-12.60zM367.40 874.10v8.00h7.80v-8.00z"/>
<path class="s" d="M372.80 883.50h12.60v14.00h-12.60zM375.20 886.50v8.00h7.80v-8.00z"/>
<path class="s" d="M311.80 897.80h12.60v14.00h-12.60zM314.20 900.80v8.00h7.80v-8.00z"/>
<path class="s" d="M334.70 904.00h12.60v14.00h-12.60zM337.10 907.00v8.00h7.80v-8.00z"/>
<path class="s" d="M342.20 911.40h12.60v14.00h-12.60zM344.60 914.40v8.00h7.80v-8.00z"/>
<path class="s" d="M380.70 916.10h12.60v14.00h-12.60zM383.10 919.10v8.00h7.80v-8.00z"/>
<path class="s" d="M350.00 930.60h12.60v14.00h-12.60zM352.40 933.60v8.00h7.80v-8.00z"/>
<path class="s" d="M388.90 725.30h12.60v14.00h-12.60zM391.30 728.30v8.00h7.80v-8.00z"/>
<path class="s" d="M395.60 875.80h12.60v14.00h-12.60zM398.00 878.80v8.00h7.80v-8.00z"/>
<path class="s" d="M159.60 857.60h12.60v14.00h-12.60zM162.00 860.60v8.00h7.80v-8.00z"/>
<path class="s" d="M411.20 785.70h12.60v14.00h-12.60zM413.60 788.70v8.00h7.80v-8.00z"/>
<path class="s" d="M411.20 804.00h12.60v14.00h-12.60zM413.60 807.00v8.00h7.80v-8.00z"/>
<path class="s" d="M411.20 810.70h12.60v14.00h-12.60zM413.60 813.70v8.00h7.80v-8.00z"/>
<path class="s" d="M411.20 828.90h12.60v14.00h-12.60zM413.60 831.90v8.00h7.80v-8.00z"/>
<path class="s" d="M441.60 789.40h12.60v14.00h-12.60zM444.00 792.40v8.00h7.80v-8.00z"/>
<path class="s" d="M434.10 795.20h12.60v14.00h-12.60zM436.50 798.20v8.00h7.80v-8.00z"/>
<path class="s" d="M449.40 804.60h12.60v14.00h-12.60zM451.80 807.60v8.00h7.80v-8.00z"/>
<path class="s" d="M425.30 819.00h12.60v14.00h-12.60zM427.70 822.00v8.00h7.80v-8.00z"/>
<path class="s" d="M434.10 816.20h12.60v14.00h-12.60zM436.50 819.20v8.00h7.80v-8.00z"/>
<path class="s" d="M441.60 812.90h12.60v14.00h-12.60zM444.00 815.90v8.00h7.80v-8.00z"/>
<path class="s" d="M449.40 819.50h12.60v14.00h-12.60zM451.80 822.50v8.00h7.80v-8.00z"/>
<path class="s" d="M457.40 819.00h12.60v14.00h-12.60zM459.80 822.00v8.00h7.80v-8.00z"/>
<path class="s" d="M441.60 831.20h12.60v14.00h-12.60zM444.00 834.20v8.00h7.80v-8.00z"/>
<path class="s" d="M449.40 846.70h12.60v14.00h-12.60zM451.80 849.70v8.00h7.80v-8.00z"/>
<path class="s" d="M472.00 844.40h12.60v14.00h-12.60zM474.40 847.40v8.00h7.80v-8.00z"/>
<path class="s" d="M411.20 849.40h12.60v14.00h-12.60zM413.60 852.40v8.00h7.80v-8.00z"/>
<path class="s" d="M434.10 861.40h12.60v14.00h-12.60zM436.50 864.40v8.00h7.80v-8.00z"/>
<path class="s" d="M426.10 871.00h12.60v14.00h-12.60zM428.50 874.00v8.00h7.80v-8.00z"/>
<path class="s" d="M464.60 866.00h12.60v14.00h-12.60zM467.00 869.00v8.00h7.80v-8.00z"/>
<path class="s" d="M464.60 874.90h12.60v14.00h-12.60zM467.00 877.90v8.00h7.80v-8.00z"/>
<path class="s" d="M464.60 882.70h12.60v14.00h-12.60zM467.00 885.70v8.00h7.80v-8.00z"/>
<path class="s" d="M464.60 889.30h12.60v14.00h-12.60zM467.00 892.30v8.00h7.80v-8.00z"/>
<path class="s" d="M474.00 879.90h12.60v14.00h-12.60zM476.40 882.90v8.00h7.80v-8.00z"/>
<path class="s" d="M487.30 888.20h12.60v14.00h-12.60zM489.70 891.20v8.00h7.80v-8.00z"/>
<path class="s" d="M495.60 887.60h12.60v14.00h-12.60zM498.00 890.60v8.00h7.80v-8.00z"/>
<path class="s" d="M403.10 904.80h12.60v14.00h-12.60zM405.50 907.80v8.00h7.80v-8.00z"/>
<path class="s" d="M426.10 904.80h12.60v14.00h-12.60zM428.50 907.80v8.00h7.80v-8.00z"/>
<path class="s" d="M441.60 902.60h12.60v14.00h-12.60zM444.00 905.60v8.00h7.80v-8.00z"/>
<path class="s" d="M456.50 905.40h12.60v14.00h-12.60zM458.90 908.40v8.00h7.80v-8.00z"/>
<path class="s" d="M464.60 911.50h12.60v14.00h-12.60zM467.00 914.50v8.00h7.80v-8.00z"/>
<path class="s" d="M472.30 909.20h12.60v14.00h-12.60zM474.70 912.20v8.00h7.80v-8.00z"/>
<path class="s" d="M487.30 906.50h12.60v14.00h-12.60zM489.70 909.50v8.00h7.80v-8.00z"/>
<path class="s" d="M495.00 908.10h12.60v14.00h-12.60zM497.40 911.10v8.00h7.80v-8.00z"/>
<path class="s" d="M495.00 917.00h12.60v14.00h-12.60zM497.40 920.00v8.00h7.80v-8.00z"/>
<path class="s" d="M495.00 923.60h12.60v14.00h-12.60zM497.40 926.60v8.00h7.80v-8.00z"/>
<path class="s" d="M479.50 919.80h12.60v14.00h-12.60zM481.90 922.80v8.00h7.80v-8.00z"/>
<path class="s" d="M510.30 907.60h12.60v14.00h-12.60zM512.70 910.60v8.00h7.80v-8.00z"/>
<text transform="translate(670.05,603.90) scale(0.8500,1)" font-size="47.71">E</text>
<text transform="translate(1079.40,636.20) scale(0.8353,1)" font-size="42.58">r=-0.30</text>
<text transform="translate(1079.48,681.60) scale(0.8448,1)" font-size="42.29">p=0.018</text>
<text transform="translate(699.10,956.38) rotate(-90) scale(1.1586,1)" font-size="45.38">Th17 cells</text>
<text transform="translate(750.80,1035.50) rotate(-90) scale(1.1700,1)" font-size="45.10">(% CD4+ T-cells)</text>
<line x1="831.00" y1="685.35" x2="831.00" y2="977.85" stroke-width="4.3"/>
<line x1="824.00" y1="975.60" x2="831.00" y2="975.60" stroke-width="4.3"/>
<line x1="824.00" y1="879.57" x2="831.00" y2="879.57" stroke-width="4.3"/>
<line x1="824.00" y1="783.53" x2="831.00" y2="783.53" stroke-width="4.3"/>
<line x1="824.00" y1="687.50" x2="831.00" y2="687.50" stroke-width="4.3"/>
<line x1="828.85" y1="975.70" x2="1211.85" y2="975.70" stroke-width="4.3"/>
<line x1="830.30" y1="975.70" x2="830.30" y2="983.70" stroke-width="4.3"/>
<line x1="956.90" y1="975.70" x2="956.90" y2="983.70" stroke-width="4.3"/>
<line x1="1083.10" y1="975.70" x2="1083.10" y2="983.70" stroke-width="4.3"/>
<line x1="1209.70" y1="975.70" x2="1209.70" y2="983.70" stroke-width="4.3"/>
<text transform="translate(773.17,702.65) scale(0.8290,1)" font-size="49.30">30</text>
<text transform="translate(772.17,801.75) scale(0.8629,1)" font-size="49.30">20</text>
<text transform="translate(774.82,898.25) scale(0.8053,1)" font-size="49.30">10</text>
<text transform="translate(795.97,992.15) scale(0.8241,1)" font-size="49.30">0</text>
<text transform="translate(818.92,1030.59) scale(0.8500,1)" font-size="49.30">0</text>
<text transform="translate(933.89,1030.59) scale(0.8500,1)" font-size="49.30">50</text>
<text transform="translate(1047.68,1030.59) scale(0.8500,1)" font-size="49.30">100</text>
<text transform="translate(1174.28,1030.59) scale(0.8500,1)" font-size="49.30">150</text>
<text transform="translate(921.54,1076.10) scale(0.8532,1)" font-size="48.00">ppFVC (%)</text>
<line x1="870.50" y1="834.50" x2="1161.50" y2="896.00" stroke-width="2.7"/>
<path class="s" d="M907.90 696.50h12.60v14.00h-12.60zM910.30 699.50v8.00h7.80v-8.00z"/>
<path class="s" d="M940.10 725.60h12.60v14.00h-12.60zM942.50 728.60v8.00h7.80v-8.00z"/>
<path class="s" d="M936.20 727.90h12.60v14.00h-12.60zM938.60 730.90v8.00h7.80v-8.00z"/>
<path class="s" d="M892.80 784.70h12.60v14.00h-12.60zM895.20 787.70v8.00h7.80v-8.00z"/>
<path class="s" d="M881.90 792.10h12.60v14.00h-12.60zM884.30 795.10v8.00h7.80v-8.00z"/>
<path class="s" d="M904.40 807.30h12.60v14.00h-12.60zM906.80 810.30v8.00h7.80v-8.00z"/>
<path class="s" d="M926.00 808.00h12.60v14.00h-12.60zM928.40 811.00v8.00h7.80v-8.00z"/>
<path class="s" d="M929.90 813.70h12.60v14.00h-12.60zM932.30 816.70v8.00h7.80v-8.00z"/>
<path class="s" d="M940.60 804.30h12.60v14.00h-12.60zM943.00 807.30v8.00h7.80v-8.00z"/>
<path class="s" d="M954.10 785.80h12.60v14.00h-12.60zM956.50 788.80v8.00h7.80v-8.00z"/>
<path class="s" d="M956.10 789.30h12.60v14.00h-12.60zM958.50 792.30v8.00h7.80v-8.00z"/>
<path class="s" d="M960.60 792.10h12.60v14.00h-12.60zM963.00 795.10v8.00h7.80v-8.00z"/>
<path class="s" d="M997.70 812.80h12.60v14.00h-12.60zM1000.10 815.80v8.00h7.80v-8.00z"/>
<path class="s" d="M1007.10 811.30h12.60v14.00h-12.60zM1009.50 814.30v8.00h7.80v-8.00z"/>
<path class="s" d="M884.70 835.30h12.60v14.00h-12.60zM887.10 838.30v8.00h7.80v-8.00z"/>
<path class="s" d="M960.60 829.00h12.60v14.00h-12.60zM963.00 832.00v8.00h7.80v-8.00z"/>
<path class="s" d="M975.00 831.20h12.60v14.00h-12.60zM977.40 834.20v8.00h7.80v-8.00z"/>
<path class="s" d="M971.90 843.60h12.60v14.00h-12.60zM974.30 846.60v8.00h7.80v-8.00z"/>
<path class="s" d="M988.80 859.10h12.60v14.00h-12.60zM991.20 862.10v8.00h7.80v-8.00z"/>
<path class="s" d="M959.20 849.70h12.60v14.00h-12.60zM961.60 852.70v8.00h7.80v-8.00z"/>
<path class="s" d="M959.20 857.40h12.60v14.00h-12.60zM961.60 860.40v8.00h7.80v-8.00z"/>
<path class="s" d="M988.40 860.70h12.60v14.00h-12.60zM990.80 863.70v8.00h7.80v-8.00z"/>
<path class="s" d="M989.30 865.50h12.60v14.00h-12.60zM991.70 868.50v8.00h7.80v-8.00z"/>
<path class="s" d="M906.20 870.70h12.60v14.00h-12.60zM908.60 873.70v8.00h7.80v-8.00z"/>
<path class="s" d="M932.00 868.80h12.60v14.00h-12.60zM934.40 871.80v8.00h7.80v-8.00z"/>
<path class="s" d="M967.80 871.20h12.60v14.00h-12.60zM970.20 874.20v8.00h7.80v-8.00z"/>
<path class="s" d="M983.10 871.20h12.60v14.00h-12.60zM985.50 874.20v8.00h7.80v-8.00z"/>
<path class="s" d="M1003.70 876.40h12.60v14.00h-12.60zM1006.10 879.40v8.00h7.80v-8.00z"/>
<path class="s" d="M993.60 879.80h12.60v14.00h-12.60zM996.00 882.80v8.00h7.80v-8.00z"/>
<path class="s" d="M923.90 888.20h12.60v14.00h-12.60zM926.30 891.20v8.00h7.80v-8.00z"/>
<path class="s" d="M945.40 888.90h12.60v14.00h-12.60zM947.80 891.90v8.00h7.80v-8.00z"/>
<path class="s" d="M959.20 885.00h12.60v14.00h-12.60zM961.60 888.00v8.00h7.80v-8.00z"/>
<path class="s" d="M972.60 887.00h12.60v14.00h-12.60zM975.00 890.00v8.00h7.80v-8.00z"/>
<path class="s" d="M991.70 890.30h12.60v14.00h-12.60zM994.10 893.30v8.00h7.80v-8.00z"/>
<path class="s" d="M863.60 898.40h12.60v14.00h-12.60zM866.00 901.40v8.00h7.80v-8.00z"/>
<path class="s" d="M872.20 904.60h12.60v14.00h-12.60zM874.60 907.60v8.00h7.80v-8.00z"/>
<path class="s" d="M915.30 905.40h12.60v14.00h-12.60zM917.70 908.40v8.00h7.80v-8.00z"/>
<path class="s" d="M979.30 903.20h12.60v14.00h-12.60zM981.70 906.20v8.00h7.80v-8.00z"/>
<path class="s" d="M986.90 905.60h12.60v14.00h-12.60zM989.30 908.60v8.00h7.80v-8.00z"/>
<path class="s" d="M992.70 908.40h12.60v14.00h-12.60zM995.10 911.40v8.00h7.80v-8.00z"/>
<path class="s" d="M1000.80 911.80h12.60v14.00h-12.60zM1003.20 914.80v8.00h7.80v-8.00z"/>
<path class="s" d="M1003.70 918.90h12.60v14.00h-12.60zM1006.10 921.90v8.00h7.80v-8.00z"/>
<path class="s" d="M970.70 924.70h12.60v14.00h-12.60zM973.10 927.70v8.00h7.80v-8.00z"/>
<path class="s" d="M1067.50 770.20h12.60v14.00h-12.60zM1069.90 773.20v8.00h7.80v-8.00z"/>
<path class="s" d="M1103.90 795.50h12.60v14.00h-12.60zM1106.30 798.50v8.00h7.80v-8.00z"/>
<path class="s" d="M1038.90 804.70h12.60v14.00h-12.60zM1041.30 807.70v8.00h7.80v-8.00z"/>
<path class="s" d="M1037.90 819.50h12.60v14.00h-12.60zM1040.30 822.50v8.00h7.80v-8.00z"/>
<path class="s" d="M1039.50 819.50h12.60v14.00h-12.60zM1041.90 822.50v8.00h7.80v-8.00z"/>
<path class="s" d="M1082.90 816.60h12.60v14.00h-12.60zM1085.30 819.60v8.00h7.80v-8.00z"/>
<path class="s" d="M1055.20 846.50h12.60v14.00h-12.60zM1057.60 849.50v8.00h7.80v-8.00z"/>
<path class="s" d="M1045.10 880.40h12.60v14.00h-12.60zM1047.50 883.40v8.00h7.80v-8.00z"/>
<path class="s" d="M1051.00 883.70h12.60v14.00h-12.60zM1053.40 886.70v8.00h7.80v-8.00z"/>
<path class="s" d="M1156.20 882.00h12.60v14.00h-12.60zM1158.60 885.00v8.00h7.80v-8.00z"/>
<path class="s" d="M1046.90 906.00h12.60v14.00h-12.60zM1049.30 909.00v8.00h7.80v-8.00z"/>
<path class="s" d="M1039.80 909.90h12.60v14.00h-12.60zM1042.20 912.90v8.00h7.80v-8.00z"/>
<path class="s" d="M1029.10 911.80h12.60v14.00h-12.60zM1031.50 914.80v8.00h7.80v-8.00z"/>
<path class="s" d="M1026.90 916.70h12.60v14.00h-12.60zM1029.30 919.70v8.00h7.80v-8.00z"/>
<path class="s" d="M1081.80 909.90h12.60v14.00h-12.60zM1084.20 912.90v8.00h7.80v-8.00z"/>
<path class="s" d="M1092.10 906.60h12.60v14.00h-12.60zM1094.50 909.60v8.00h7.80v-8.00z"/>
<path class="s" d="M1098.40 920.00h12.60v14.00h-12.60zM1100.80 923.00v8.00h7.80v-8.00z"/>
<text transform="translate(1322.17,604.80) scale(0.7835,1)" font-size="48.44">F</text>
<text transform="translate(1730.09,637.00) scale(0.7810,1)" font-size="42.01">r=0.34</text>
<text transform="translate(1730.15,682.90) scale(0.7804,1)" font-size="42.29">p=0.0056</text>
<text transform="translate(1356.80,962.98) rotate(-90) scale(1.1601,1)" font-size="45.38">Th17 cells</text>
<text transform="translate(1409.20,1041.60) rotate(-90) scale(1.1495,1)" font-size="45.93">(% CD4+ T-cells)</text>
<line x1="1482.00" y1="680.55" x2="1482.00" y2="973.95" stroke-width="4.3"/>
<line x1="1475.00" y1="971.50" x2="1482.00" y2="971.50" stroke-width="4.3"/>
<line x1="1475.00" y1="875.23" x2="1482.00" y2="875.23" stroke-width="4.3"/>
<line x1="1475.00" y1="778.97" x2="1482.00" y2="778.97" stroke-width="4.3"/>
<line x1="1475.00" y1="682.70" x2="1482.00" y2="682.70" stroke-width="4.3"/>
<line x1="1479.85" y1="971.80" x2="1836.55" y2="971.80" stroke-width="4.3"/>
<line x1="1481.90" y1="971.80" x2="1481.90" y2="979.80" stroke-width="4.3"/>
<line x1="1599.60" y1="971.80" x2="1599.60" y2="979.80" stroke-width="4.3"/>
<line x1="1717.00" y1="971.80" x2="1717.00" y2="979.80" stroke-width="4.3"/>
<line x1="1834.40" y1="971.80" x2="1834.40" y2="979.80" stroke-width="4.3"/>
<text transform="translate(1428.07,702.35) scale(0.7761,1)" font-size="49.30">30</text>
<text transform="translate(1427.94,799.75) scale(0.7955,1)" font-size="49.30">20</text>
<text transform="translate(1429.32,895.45) scale(0.7524,1)" font-size="49.30">10</text>
<text transform="translate(1446.45,990.15) scale(0.7859,1)" font-size="49.30">0</text>
<text transform="translate(1470.52,1026.69) scale(0.8500,1)" font-size="49.30">0</text>
<text transform="translate(1588.27,1026.69) scale(0.8500,1)" font-size="49.30">5</text>
<text transform="translate(1693.26,1026.69) scale(0.8500,1)" font-size="49.30">10</text>
<text transform="translate(1810.71,1026.69) scale(0.8500,1)" font-size="49.30">15</text>
<text transform="translate(1449.80,1068.00) scale(0.8226,1)" font-size="45.79">disease duration (months)</text>
<line x1="1485.40" y1="877.60" x2="1761.60" y2="773.80" stroke-width="2.7"/>
<path class="s" d="M1487.00 791.40h12.60v14.00h-12.60zM1489.40 794.40v8.00h7.80v-8.00z"/>
<path class="s" d="M1500.70 788.90h12.60v14.00h-12.60zM1503.10 791.90v8.00h7.80v-8.00z"/>
<path class="s" d="M1515.00 788.40h12.60v14.00h-12.60zM1517.40 791.40v8.00h7.80v-8.00z"/>
<path class="s" d="M1547.50 781.30h12.60v14.00h-12.60zM1549.90 784.30v8.00h7.80v-8.00z"/>
<path class="s" d="M1547.80 782.50h12.60v14.00h-12.60zM1550.20 785.50v8.00h7.80v-8.00z"/>
<path class="s" d="M1487.90 803.70h12.60v14.00h-12.60zM1490.30 806.70v8.00h7.80v-8.00z"/>
<path class="s" d="M1496.30 803.70h12.60v14.00h-12.60zM1498.70 806.70v8.00h7.80v-8.00z"/>
<path class="s" d="M1522.40 801.20h12.60v14.00h-12.60zM1524.80 804.20v8.00h7.80v-8.00z"/>
<path class="s" d="M1535.20 800.20h12.60v14.00h-12.60zM1537.60 803.20v8.00h7.80v-8.00z"/>
<path class="s" d="M1543.10 810.10h12.60v14.00h-12.60zM1545.50 813.10v8.00h7.80v-8.00z"/>
<path class="s" d="M1487.90 816.50h12.60v14.00h-12.60zM1490.30 819.50v8.00h7.80v-8.00z"/>
<path class="s" d="M1505.70 817.50h12.60v14.00h-12.60zM1508.10 820.50v8.00h7.80v-8.00z"/>
<path class="s" d="M1516.00 827.30h12.60v14.00h-12.60zM1518.40 830.30v8.00h7.80v-8.00z"/>
<path class="s" d="M1520.40 831.20h12.60v14.00h-12.60zM1522.80 834.20v8.00h7.80v-8.00z"/>
<path class="s" d="M1572.70 808.00h12.60v14.00h-12.60zM1575.10 811.00v8.00h7.80v-8.00z"/>
<path class="s" d="M1570.50 825.80h12.60v14.00h-12.60zM1572.90 828.80v8.00h7.80v-8.00z"/>
<path class="s" d="M1501.70 841.10h12.60v14.00h-12.60zM1504.10 844.10v8.00h7.80v-8.00z"/>
<path class="s" d="M1520.90 846.00h12.60v14.00h-12.60zM1523.30 849.00v8.00h7.80v-8.00z"/>
<path class="s" d="M1507.60 852.90h12.60v14.00h-12.60zM1510.00 855.90v8.00h7.80v-8.00z"/>
<path class="s" d="M1530.80 852.90h12.60v14.00h-12.60zM1533.20 855.90v8.00h7.80v-8.00z"/>
<path class="s" d="M1553.40 843.10h12.60v14.00h-12.60zM1555.80 846.10v8.00h7.80v-8.00z"/>
<path class="s" d="M1548.50 855.40h12.60v14.00h-12.60zM1550.90 858.40v8.00h7.80v-8.00z"/>
<path class="s" d="M1492.40 856.80h12.60v14.00h-12.60zM1494.80 859.80v8.00h7.80v-8.00z"/>
<path class="s" d="M1490.90 864.70h12.60v14.00h-12.60zM1493.30 867.70v8.00h7.80v-8.00z"/>
<path class="s" d="M1507.60 864.70h12.60v14.00h-12.60zM1510.00 867.70v8.00h7.80v-8.00z"/>
<path class="s" d="M1522.40 868.20h12.60v14.00h-12.60zM1524.80 871.20v8.00h7.80v-8.00z"/>
<path class="s" d="M1520.40 872.10h12.60v14.00h-12.60zM1522.80 875.10v8.00h7.80v-8.00z"/>
<path class="s" d="M1507.60 876.50h12.60v14.00h-12.60zM1510.00 879.50v8.00h7.80v-8.00z"/>
<path class="s" d="M1493.40 877.50h12.60v14.00h-12.60zM1495.80 880.50v8.00h7.80v-8.00z"/>
<path class="s" d="M1486.20 885.40h12.60v14.00h-12.60zM1488.60 888.40v8.00h7.80v-8.00z"/>
<path class="s" d="M1487.70 885.40h12.60v14.00h-12.60zM1490.10 888.40v8.00h7.80v-8.00z"/>
<path class="s" d="M1504.70 887.40h12.60v14.00h-12.60zM1507.10 890.40v8.00h7.80v-8.00z"/>
<path class="s" d="M1539.10 880.50h12.60v14.00h-12.60zM1541.50 883.50v8.00h7.80v-8.00z"/>
<path class="s" d="M1562.30 883.40h12.60v14.00h-12.60zM1564.70 886.40v8.00h7.80v-8.00z"/>
<path class="s" d="M1568.70 882.50h12.60v14.00h-12.60zM1571.10 885.50v8.00h7.80v-8.00z"/>
<path class="s" d="M1519.00 894.30h12.60v14.00h-12.60zM1521.40 897.30v8.00h7.80v-8.00z"/>
<path class="s" d="M1497.80 898.20h12.60v14.00h-12.60zM1500.20 901.20v8.00h7.80v-8.00z"/>
<path class="s" d="M1504.70 899.20h12.60v14.00h-12.60zM1507.10 902.20v8.00h7.80v-8.00z"/>
<path class="s" d="M1511.10 902.10h12.60v14.00h-12.60zM1513.50 905.10v8.00h7.80v-8.00z"/>
<path class="s" d="M1528.80 902.60h12.60v14.00h-12.60zM1531.20 905.60v8.00h7.80v-8.00z"/>
<path class="s" d="M1478.60 906.90h12.60v14.00h-12.60zM1481.00 909.90v8.00h7.80v-8.00z"/>
<path class="s" d="M1489.90 905.10h12.60v14.00h-12.60zM1492.30 908.10v8.00h7.80v-8.00z"/>
<path class="s" d="M1497.30 906.10h12.60v14.00h-12.60zM1499.70 909.10v8.00h7.80v-8.00z"/>
<path class="s" d="M1519.00 906.10h12.60v14.00h-12.60zM1521.40 909.10v8.00h7.80v-8.00z"/>
<path class="s" d="M1490.40 914.90h12.60v14.00h-12.60zM1492.80 917.90v8.00h7.80v-8.00z"/>
<path class="s" d="M1497.80 917.40h12.60v14.00h-12.60zM1500.20 920.40v8.00h7.80v-8.00z"/>
<path class="s" d="M1506.70 921.80h12.60v14.00h-12.60zM1509.10 924.80v8.00h7.80v-8.00z"/>
<path class="s" d="M1522.40 917.40h12.60v14.00h-12.60zM1524.80 920.40v8.00h7.80v-8.00z"/>
<path class="s" d="M1535.70 927.70h12.60v14.00h-12.60zM1538.10 930.70v8.00h7.80v-8.00z"/>
<path class="s" d="M1508.80 724.00h12.60v14.00h-12.60zM1511.20 727.00v8.00h7.80v-8.00z"/>
<path class="s" d="M1542.60 721.50h12.60v14.00h-12.60zM1545.00 724.50v8.00h7.80v-8.00z"/>
<path class="s" d="M1601.70 811.50h12.60v14.00h-12.60zM1604.10 814.50v8.00h7.80v-8.00z"/>
<path class="s" d="M1624.40 692.40h12.60v14.00h-12.60zM1626.80 695.40v8.00h7.80v-8.00z"/>
<path class="s" d="M1649.30 766.80h12.60v14.00h-12.60zM1651.70 769.80v8.00h7.80v-8.00z"/>
<path class="s" d="M1749.90 786.00h12.60v14.00h-12.60zM1752.30 789.00v8.00h7.80v-8.00z"/>
<path class="s" d="M1758.20 816.10h12.60v14.00h-12.60zM1760.60 819.10v8.00h7.80v-8.00z"/>
<path class="s" d="M1579.20 859.50h12.60v14.00h-12.60zM1581.60 862.50v8.00h7.80v-8.00z"/>
<path class="s" d="M1602.30 898.20h12.60v14.00h-12.60zM1604.70 901.20v8.00h7.80v-8.00z"/>
<text transform="translate(5.22,1175.60) scale(0.8025,1)" font-size="49.46">G</text>
<text transform="translate(399.48,1202.80) scale(0.8465,1)" font-size="42.44">r=0.31</text>
<text transform="translate(399.55,1248.40) scale(0.8554,1)" font-size="42.29">p=0.011</text>
<text transform="translate(37.40,1448.69) rotate(-90) scale(1.0473,1)" font-size="48.44">Ratio of</text>
<text transform="translate(89.80,1512.23) rotate(-90) scale(1.0263,1)" font-size="48.73">Th1/Th2 cells</text>
<line x1="158.50" y1="1216.55" x2="158.50" y2="1509.45" stroke-width="4.3"/>
<line x1="151.50" y1="1507.10" x2="158.50" y2="1507.10" stroke-width="4.3"/>
<line x1="151.50" y1="1435.00" x2="158.50" y2="1435.00" stroke-width="4.3"/>
<line x1="151.50" y1="1362.90" x2="158.50" y2="1362.90" stroke-width="4.3"/>
<line x1="151.50" y1="1290.80" x2="158.50" y2="1290.80" stroke-width="4.3"/>
<line x1="151.50" y1="1218.70" x2="158.50" y2="1218.70" stroke-width="4.3"/>
<line x1="156.35" y1="1507.30" x2="511.25" y2="1507.30" stroke-width="4.3"/>
<line x1="158.20" y1="1507.30" x2="158.20" y2="1515.30" stroke-width="4.3"/>
<line x1="275.20" y1="1507.30" x2="275.20" y2="1515.30" stroke-width="4.3"/>
<line x1="392.90" y1="1507.30" x2="392.90" y2="1515.30" stroke-width="4.3"/>
<line x1="509.10" y1="1507.30" x2="509.10" y2="1515.30" stroke-width="4.3"/>
<text transform="translate(117.15,1236.95) scale(0.7898,1)" font-size="49.30">8</text>
<text transform="translate(115.23,1313.05) scale(0.7982,1)" font-size="49.30">6</text>
<text transform="translate(116.84,1381.95) scale(0.7792,1)" font-size="49.30">4</text>
<text transform="translate(117.89,1454.75) scale(0.8158,1)" font-size="49.30">2</text>
<text transform="translate(118.37,1526.45) scale(0.7774,1)" font-size="49.30">0</text>
<text transform="translate(146.82,1562.59) scale(0.8500,1)" font-size="49.30">0</text>
<text transform="translate(263.30,1562.59) scale(0.8500,1)" font-size="49.30">1</text>
<text transform="translate(381.57,1562.59) scale(0.8500,1)" font-size="49.30">2</text>
<text transform="translate(497.88,1562.59) scale(0.8500,1)" font-size="49.30">3</text>
<text transform="translate(127.61,1609.60) scale(0.7761,1)" font-size="48.58">ALSFRS-R slope (points)</text>
<line x1="167.60" y1="1457.90" x2="486.90" y2="1383.90" stroke-width="2.7"/>
<path class="s" d="M196.35 1404.80h11.90v14.00h-11.90zM198.75 1407.80v8.00h7.10v-8.00z"/>
<path class="s" d="M227.35 1400.40h11.90v14.00h-11.90zM229.75 1403.40v8.00h7.10v-8.00z"/>
<path class="s" d="M236.65 1412.50h11.90v14.00h-11.90zM239.05 1415.50v8.00h7.10v-8.00z"/>
<path class="s" d="M196.35 1417.00h11.90v14.00h-11.90zM198.75 1420.00v8.00h7.10v-8.00z"/>
<path class="s" d="M206.25 1417.00h11.90v14.00h-11.90zM208.65 1420.00v8.00h7.10v-8.00z"/>
<path class="s" d="M209.65 1420.30h11.90v14.00h-11.90zM212.05 1423.30v8.00h7.10v-8.00z"/>
<path class="s" d="M160.85 1431.00h11.90v14.00h-11.90zM163.25 1434.00v8.00h7.10v-8.00z"/>
<path class="s" d="M185.65 1426.20h11.90v14.00h-11.90zM188.05 1429.20v8.00h7.10v-8.00z"/>
<path class="s" d="M176.35 1431.00h11.90v14.00h-11.90zM178.75 1434.00v8.00h7.10v-8.00z"/>
<path class="s" d="M176.35 1437.70h11.90v14.00h-11.90zM178.75 1440.70v8.00h7.10v-8.00z"/>
<path class="s" d="M185.65 1439.10h11.90v14.00h-11.90zM188.05 1442.10v8.00h7.10v-8.00z"/>
<path class="s" d="M169.75 1445.80h11.90v14.00h-11.90zM172.15 1448.80v8.00h7.10v-8.00z"/>
<path class="s" d="M203.75 1435.40h11.90v14.00h-11.90zM206.15 1438.40v8.00h7.10v-8.00z"/>
<path class="s" d="M211.85 1433.20h11.90v14.00h-11.90zM214.25 1436.20v8.00h7.10v-8.00z"/>
<path class="s" d="M223.65 1435.10h11.90v14.00h-11.90zM226.05 1438.10v8.00h7.10v-8.00z"/>
<path class="s" d="M212.15 1441.30h11.90v14.00h-11.90zM214.55 1444.30v8.00h7.10v-8.00z"/>
<path class="s" d="M219.55 1446.50h11.90v14.00h-11.90zM221.95 1449.50v8.00h7.10v-8.00z"/>
<path class="s" d="M203.75 1451.70h11.90v14.00h-11.90zM206.15 1454.70v8.00h7.10v-8.00z"/>
<path class="s" d="M160.85 1460.20h11.90v14.00h-11.90zM163.25 1463.20v8.00h7.10v-8.00z"/>
<path class="s" d="M170.45 1456.10h11.90v14.00h-11.90zM172.85 1459.10v8.00h7.10v-8.00z"/>
<path class="s" d="M170.45 1462.80h11.90v14.00h-11.90zM172.85 1465.80v8.00h7.10v-8.00z"/>
<path class="s" d="M170.45 1467.90h11.90v14.00h-11.90zM172.85 1470.90v8.00h7.10v-8.00z"/>
<path class="s" d="M183.75 1462.80h11.90v14.00h-11.90zM186.15 1465.80v8.00h7.10v-8.00z"/>
<path class="s" d="M183.75 1468.70h11.90v14.00h-11.90zM186.15 1471.70v8.00h7.10v-8.00z"/>
<path class="s" d="M184.55 1473.10h11.90v14.00h-11.90zM186.95 1476.10v8.00h7.10v-8.00z"/>
<path class="s" d="M195.95 1459.80h11.90v14.00h-11.90zM198.35 1462.80v8.00h7.10v-8.00z"/>
<path class="s" d="M221.05 1457.60h11.90v14.00h-11.90zM223.45 1460.60v8.00h7.10v-8.00z"/>
<path class="s" d="M232.55 1452.80h11.90v14.00h-11.90zM234.95 1455.80v8.00h7.10v-8.00z"/>
<path class="s" d="M241.35 1455.00h11.90v14.00h-11.90zM243.75 1458.00v8.00h7.10v-8.00z"/>
<path class="s" d="M245.45 1459.10h11.90v14.00h-11.90zM247.85 1462.10v8.00h7.10v-8.00z"/>
<path class="s" d="M259.05 1456.10h11.90v14.00h-11.90zM261.45 1459.10v8.00h7.10v-8.00z"/>
<path class="s" d="M219.25 1469.40h11.90v14.00h-11.90zM221.65 1472.40v8.00h7.10v-8.00z"/>
<path class="s" d="M239.15 1472.00h11.90v14.00h-11.90zM241.55 1475.00v8.00h7.10v-8.00z"/>
<path class="s" d="M252.85 1468.70h11.90v14.00h-11.90zM255.25 1471.70v8.00h7.10v-8.00z"/>
<path class="s" d="M173.45 1476.40h11.90v14.00h-11.90zM175.85 1479.40v8.00h7.10v-8.00z"/>
<path class="s" d="M194.15 1474.60h11.90v14.00h-11.90zM196.55 1477.60v8.00h7.10v-8.00z"/>
<path class="s" d="M204.85 1474.60h11.90v14.00h-11.90zM207.25 1477.60v8.00h7.10v-8.00z"/>
<path class="s" d="M185.65 1482.70h11.90v14.00h-11.90zM188.05 1485.70v8.00h7.10v-8.00z"/>
<path class="s" d="M203.75 1482.00h11.90v14.00h-11.90zM206.15 1485.00v8.00h7.10v-8.00z"/>
<path class="s" d="M203.75 1486.40h11.90v14.00h-11.90zM206.15 1489.40v8.00h7.10v-8.00z"/>
<path class="s" d="M216.95 1483.40h11.90v14.00h-11.90zM219.35 1486.40v8.00h7.10v-8.00z"/>
<path class="s" d="M203.75 1489.30h11.90v14.00h-11.90zM206.15 1492.30v8.00h7.10v-8.00z"/>
<path class="s" d="M333.45 1264.90h11.90v14.00h-11.90zM335.85 1267.90v8.00h7.10v-8.00z"/>
<path class="s" d="M179.15 1313.50h11.90v14.00h-11.90zM181.55 1316.50v8.00h7.10v-8.00z"/>
<path class="s" d="M234.65 1343.90h11.90v14.00h-11.90zM237.05 1346.90v8.00h7.10v-8.00z"/>
<path class="s" d="M221.25 1364.40h11.90v14.00h-11.90zM223.65 1367.40v8.00h7.10v-8.00z"/>
<path class="s" d="M176.15 1375.50h11.90v14.00h-11.90zM178.55 1378.50v8.00h7.10v-8.00z"/>
<path class="s" d="M334.15 1347.40h11.90v14.00h-11.90zM336.55 1350.40v8.00h7.10v-8.00z"/>
<path class="s" d="M311.05 1372.90h11.90v14.00h-11.90zM313.45 1375.90v8.00h7.10v-8.00z"/>
<path class="s" d="M468.25 1334.40h11.90v14.00h-11.90zM470.65 1337.40v8.00h7.10v-8.00z"/>
<path class="s" d="M481.35 1338.50h11.90v14.00h-11.90zM483.75 1341.50v8.00h7.10v-8.00z"/>
<path class="s" d="M394.05 1378.50h11.90v14.00h-11.90zM396.45 1381.50v8.00h7.10v-8.00z"/>
<path class="s" d="M382.35 1417.40h11.90v14.00h-11.90zM384.75 1420.40v8.00h7.10v-8.00z"/>
<path class="s" d="M425.05 1421.60h11.90v14.00h-11.90zM427.45 1424.60v8.00h7.10v-8.00z"/>
<path class="s" d="M470.85 1412.30h11.90v14.00h-11.90zM473.25 1415.30v8.00h7.10v-8.00z"/>
<path class="s" d="M274.75 1430.90h11.90v14.00h-11.90zM277.15 1433.90v8.00h7.10v-8.00z"/>
<path class="s" d="M300.25 1435.80h11.90v14.00h-11.90zM302.65 1438.80v8.00h7.10v-8.00z"/>
<path class="s" d="M299.55 1459.20h11.90v14.00h-11.90zM301.95 1462.20v8.00h7.10v-8.00z"/>
<path class="s" d="M305.05 1458.50h11.90v14.00h-11.90zM307.45 1461.50v8.00h7.10v-8.00z"/>
<path class="s" d="M328.55 1461.30h11.90v14.00h-11.90zM330.95 1464.30v8.00h7.10v-8.00z"/>
<path class="s" d="M297.95 1472.70h11.90v14.00h-11.90zM300.35 1475.70v8.00h7.10v-8.00z"/>
<path class="s" d="M391.95 1477.60h11.90v14.00h-11.90zM394.35 1480.60v8.00h7.10v-8.00z"/>
<text transform="translate(668.16,1180.70) scale(0.7282,1)" font-size="49.02">H</text>
<text transform="translate(1093.55,1205.50) scale(0.8912,1)" font-size="42.44">r=0.29</text>
<text transform="translate(1093.66,1251.00) scale(0.8900,1)" font-size="42.15">p=0.020</text>
<text transform="translate(688.40,1459.91) rotate(-90) scale(1.0440,1)" font-size="48.87">Ratio of</text>
<text transform="translate(739.90,1544.53) rotate(-90) scale(1.0398,1)" font-size="48.15">Treg/Th17 cells</text>
<line x1="829.80" y1="1227.55" x2="829.80" y2="1509.75" stroke-width="4.3"/>
<line x1="822.80" y1="1507.40" x2="829.80" y2="1507.40" stroke-width="4.3"/>
<line x1="822.80" y1="1414.83" x2="829.80" y2="1414.83" stroke-width="4.3"/>
<line x1="822.80" y1="1322.27" x2="829.80" y2="1322.27" stroke-width="4.3"/>
<line x1="822.80" y1="1229.70" x2="829.80" y2="1229.70" stroke-width="4.3"/>
<line x1="827.65" y1="1507.60" x2="1217.55" y2="1507.60" stroke-width="4.3"/>
<line x1="829.10" y1="1507.60" x2="829.10" y2="1515.60" stroke-width="4.3"/>
<line x1="906.70" y1="1507.60" x2="906.70" y2="1515.60" stroke-width="4.3"/>
<line x1="983.80" y1="1507.60" x2="983.80" y2="1515.60" stroke-width="4.3"/>
<line x1="1060.90" y1="1507.60" x2="1060.90" y2="1515.60" stroke-width="4.3"/>
<line x1="1137.80" y1="1507.60" x2="1137.80" y2="1515.60" stroke-width="4.3"/>
<line x1="1215.40" y1="1507.60" x2="1215.40" y2="1515.60" stroke-width="4.3"/>
<text transform="translate(754.86,1251.85) scale(0.8827,1)" font-size="49.30">0.6</text>
<text transform="translate(754.45,1338.85) scale(0.8850,1)" font-size="49.30">0.4</text>
<text transform="translate(751.48,1431.35) scale(0.8738,1)" font-size="49.30">0.2</text>
<text transform="translate(752.78,1524.75) scale(0.8716,1)" font-size="49.30">0.0</text>
<text transform="translate(817.72,1565.19) scale(0.8500,1)" font-size="49.30">0</text>
<text transform="translate(882.96,1565.19) scale(0.8500,1)" font-size="49.30">10</text>
<text transform="translate(960.58,1565.19) scale(0.8500,1)" font-size="49.30">20</text>
<text transform="translate(1037.94,1565.19) scale(0.8500,1)" font-size="49.30">30</text>
<text transform="translate(1115.16,1565.19) scale(0.8500,1)" font-size="49.30">40</text>
<text transform="translate(1192.39,1565.19) scale(0.8500,1)" font-size="49.30">50</text>
<text transform="translate(848.89,1614.60) scale(0.8827,1)" font-size="48.58">ALSFRS-R (points)</text>
<line x1="830.10" y1="1473.60" x2="1188.40" y2="1426.90" stroke-width="2.7"/>
<path class="s" d="M1016.50 1336.00h12.60v14.00h-12.60zM1018.90 1339.00v8.00h7.80v-8.00z"/>
<path class="s" d="M1047.30 1390.20h12.60v14.00h-12.60zM1049.70 1393.20v8.00h7.80v-8.00z"/>
<path class="s" d="M1039.80 1413.80h12.60v14.00h-12.60zM1042.20 1416.80v8.00h7.80v-8.00z"/>
<path class="s" d="M954.90 1440.30h12.60v14.00h-12.60zM957.30 1443.30v8.00h7.80v-8.00z"/>
<path class="s" d="M954.90 1450.70h12.60v14.00h-12.60zM957.30 1453.70v8.00h7.80v-8.00z"/>
<path class="s" d="M985.50 1429.30h12.60v14.00h-12.60zM987.90 1432.30v8.00h7.80v-8.00z"/>
<path class="s" d="M985.50 1444.20h12.60v14.00h-12.60zM987.90 1447.20v8.00h7.80v-8.00z"/>
<path class="s" d="M1008.70 1438.80h12.60v14.00h-12.60zM1011.10 1441.80v8.00h7.80v-8.00z"/>
<path class="s" d="M1024.30 1443.60h12.60v14.00h-12.60zM1026.70 1446.60v8.00h7.80v-8.00z"/>
<path class="s" d="M1047.30 1442.30h12.60v14.00h-12.60zM1049.70 1445.30v8.00h7.80v-8.00z"/>
<path class="s" d="M1047.30 1447.40h12.60v14.00h-12.60zM1049.70 1450.40v8.00h7.80v-8.00z"/>
<path class="s" d="M1055.00 1458.40h12.60v14.00h-12.60zM1057.40 1461.40v8.00h7.80v-8.00z"/>
<path class="s" d="M1069.50 1462.70h12.60v14.00h-12.60zM1071.90 1465.70v8.00h7.80v-8.00z"/>
<path class="s" d="M931.60 1484.90h12.60v14.00h-12.60zM934.00 1487.90v8.00h7.80v-8.00z"/>
<path class="s" d="M993.20 1473.00h12.60v14.00h-12.60zM995.60 1476.00v8.00h7.80v-8.00z"/>
<path class="s" d="M1024.30 1465.50h12.60v14.00h-12.60zM1026.70 1468.50v8.00h7.80v-8.00z"/>
<path class="s" d="M1032.00 1473.30h12.60v14.00h-12.60zM1034.40 1476.30v8.00h7.80v-8.00z"/>
<path class="s" d="M1047.30 1486.80h12.60v14.00h-12.60zM1049.70 1489.80v8.00h7.80v-8.00z"/>
<path class="s" d="M1055.00 1483.60h12.60v14.00h-12.60zM1057.40 1486.60v8.00h7.80v-8.00z"/>
<path class="s" d="M1063.00 1479.10h12.60v14.00h-12.60zM1065.40 1482.10v8.00h7.80v-8.00z"/>
<path class="s" d="M1170.80 1265.40h12.60v14.00h-12.60zM1173.20 1268.40v8.00h7.80v-8.00z"/>
<path class="s" d="M1186.20 1309.60h12.60v14.00h-12.60zM1188.60 1312.60v8.00h7.80v-8.00z"/>
<path class="s" d="M1170.80 1324.70h12.60v14.00h-12.60zM1173.20 1327.70v8.00h7.80v-8.00z"/>
<path class="s" d="M1139.80 1328.10h12.60v14.00h-12.60zM1142.20 1331.10v8.00h7.80v-8.00z"/>
<path class="s" d="M1078.20 1332.10h12.60v14.00h-12.60zM1080.60 1335.10v8.00h7.80v-8.00z"/>
<path class="s" d="M1132.20 1365.60h12.60v14.00h-12.60zM1134.60 1368.60v8.00h7.80v-8.00z"/>
<path class="s" d="M1140.00 1370.20h12.60v14.00h-12.60zM1142.40 1373.20v8.00h7.80v-8.00z"/>
<path class="s" d="M1147.40 1371.80h12.60v14.00h-12.60zM1149.80 1374.80v8.00h7.80v-8.00z"/>
<path class="s" d="M1155.20 1373.60h12.60v14.00h-12.60zM1157.60 1376.60v8.00h7.80v-8.00z"/>
<path class="s" d="M1170.80 1392.90h12.60v14.00h-12.60zM1173.20 1395.90v8.00h7.80v-8.00z"/>
<path class="s" d="M1170.80 1399.60h12.60v14.00h-12.60zM1173.20 1402.60v8.00h7.80v-8.00z"/>
<path class="s" d="M1140.10 1410.40h12.60v14.00h-12.60zM1142.50 1413.40v8.00h7.80v-8.00z"/>
<path class="s" d="M1140.10 1427.80h12.60v14.00h-12.60zM1142.50 1430.80v8.00h7.80v-8.00z"/>
<path class="s" d="M1140.10 1432.00h12.60v14.00h-12.60zM1142.50 1435.00v8.00h7.80v-8.00z"/>
<path class="s" d="M1147.60 1424.50h12.60v14.00h-12.60zM1150.00 1427.50v8.00h7.80v-8.00z"/>
<path class="s" d="M1147.60 1427.80h12.60v14.00h-12.60zM1150.00 1430.80v8.00h7.80v-8.00z"/>
<path class="s" d="M1162.90 1429.50h12.60v14.00h-12.60zM1165.30 1432.50v8.00h7.80v-8.00z"/>
<path class="s" d="M1109.20 1427.80h12.60v14.00h-12.60zM1111.60 1430.80v8.00h7.80v-8.00z"/>
<path class="s" d="M1085.90 1437.80h12.60v14.00h-12.60zM1088.30 1440.80v8.00h7.80v-8.00z"/>
<path class="s" d="M1085.90 1444.40h12.60v14.00h-12.60zM1088.30 1447.40v8.00h7.80v-8.00z"/>
<path class="s" d="M1085.90 1456.10h12.60v14.00h-12.60zM1088.30 1459.10v8.00h7.80v-8.00z"/>
<path class="s" d="M1101.50 1441.10h12.60v14.00h-12.60zM1103.90 1444.10v8.00h7.80v-8.00z"/>
<path class="s" d="M1109.20 1446.90h12.60v14.00h-12.60zM1111.60 1449.90v8.00h7.80v-8.00z"/>
<path class="s" d="M1101.50 1455.20h12.60v14.00h-12.60zM1103.90 1458.20v8.00h7.80v-8.00z"/>
<path class="s" d="M1101.50 1466.00h12.60v14.00h-12.60zM1103.90 1469.00v8.00h7.80v-8.00z"/>
<path class="s" d="M1116.80 1456.10h12.60v14.00h-12.60zM1119.20 1459.10v8.00h7.80v-8.00z"/>
<path class="s" d="M1116.80 1461.10h12.60v14.00h-12.60zM1119.20 1464.10v8.00h7.80v-8.00z"/>
<path class="s" d="M1124.70 1454.00h12.60v14.00h-12.60zM1127.10 1457.00v8.00h7.80v-8.00z"/>
<path class="s" d="M1140.10 1452.80h12.60v14.00h-12.60zM1142.50 1455.80v8.00h7.80v-8.00z"/>
<path class="s" d="M1147.60 1446.90h12.60v14.00h-12.60zM1150.00 1449.90v8.00h7.80v-8.00z"/>
<path class="s" d="M1147.60 1461.10h12.60v14.00h-12.60zM1150.00 1464.10v8.00h7.80v-8.00z"/>
<path class="s" d="M1162.90 1445.30h12.60v14.00h-12.60zM1165.30 1448.30v8.00h7.80v-8.00z"/>
<path class="s" d="M1070.30 1462.30h12.60v14.00h-12.60zM1072.70 1465.30v8.00h7.80v-8.00z"/>
<path class="s" d="M1085.90 1471.90h12.60v14.00h-12.60zM1088.30 1474.90v8.00h7.80v-8.00z"/>
<path class="s" d="M1085.90 1489.70h12.60v14.00h-12.60zM1088.30 1492.70v8.00h7.80v-8.00z"/>
<path class="s" d="M1132.20 1476.80h12.60v14.00h-12.60zM1134.60 1479.80v8.00h7.80v-8.00z"/>
<path class="s" d="M1155.50 1481.00h12.60v14.00h-12.60zM1157.90 1484.00v8.00h7.80v-8.00z"/>
<path class="s" d="M1108.90 1485.60h12.60v14.00h-12.60zM1111.30 1488.60v8.00h7.80v-8.00z"/>
<path class="s" d="M1116.80 1490.10h12.60v14.00h-12.60zM1119.20 1493.10v8.00h7.80v-8.00z"/>
<path class="s" d="M1124.30 1499.30h12.60v14.00h-12.60zM1126.70 1502.30v8.00h7.80v-8.00z"/>
<path class="s" d="M1124.30 1503.40h12.60v14.00h-12.60zM1126.70 1506.40v8.00h7.80v-8.00z"/>
<path class="s" d="M823.80 1361.50h12.60v14.00h-12.60zM826.20 1364.50v8.00h7.80v-8.00z"/>
<path class="s" d="M831.30 1420.20h12.60v14.00h-12.60zM833.70 1423.20v8.00h7.80v-8.00z"/>
<path class="s" d="M823.80 1496.40h12.60v14.00h-12.60zM826.20 1499.40v8.00h7.80v-8.00z"/>
</svg>
</body></html>
